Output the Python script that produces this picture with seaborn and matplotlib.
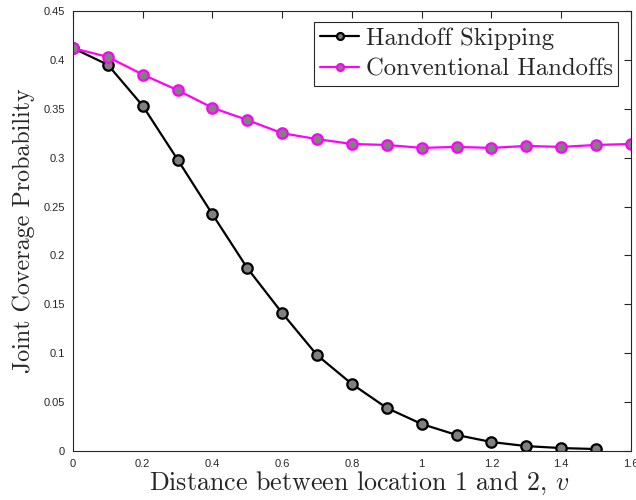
import numpy as np
import pandas as pd
import matplotlib
matplotlib.use("Agg")
import matplotlib.pyplot as plt
import seaborn as sns

# Distance between location 1 and 2 (v)
v_skip = [0.0, 0.1, 0.2, 0.3, 0.4, 0.5, 0.6, 0.7, 0.8, 0.9, 1.0, 1.1, 1.2, 1.3, 1.4, 1.5]
p_skip = [0.412, 0.395, 0.353, 0.298, 0.242, 0.187, 0.141, 0.098, 0.0685, 0.044,
          0.0276, 0.0164, 0.0092, 0.005, 0.003, 0.002]

v_conv = [0.0, 0.1, 0.2, 0.3, 0.4, 0.5, 0.6, 0.7, 0.8, 0.9, 1.0, 1.1, 1.2, 1.3, 1.4, 1.5, 1.6]
p_conv = [0.412, 0.403, 0.385, 0.369, 0.351, 0.3385, 0.325, 0.319, 0.314, 0.313,
          0.310, 0.311, 0.310, 0.312, 0.311, 0.313, 0.314]

series_names = ["Handoff Skipping", "Conventional Handoffs"]
series_colors = ["black", "magenta"]

x_ticks = [0, 0.2, 0.4, 0.6, 0.8, 1.0, 1.2, 1.4, 1.6]
x_tick_labels = ["0", "0.2", "0.4", "0.6", "0.8", "1", "1.2", "1.4", "1.6"]
y_ticks = [0, 0.05, 0.1, 0.15, 0.2, 0.25, 0.3, 0.35, 0.4, 0.45]
y_tick_labels = ["0", "0.05", "0.1", "0.15", "0.2", "0.25", "0.3", "0.35", "0.4", "0.45"]

sns.set_theme(style="white")
plt.rcParams["mathtext.fontset"] = "cm"
plt.rcParams["axes.unicode_minus"] = False

df = pd.concat([
    pd.DataFrame({"v": v_skip, "p": p_skip, "series": series_names[0]}),
    pd.DataFrame({"v": v_conv, "p": p_conv, "series": series_names[1]}),
], ignore_index=True)

fig = plt.figure(figsize=(6.36, 5.0), dpi=100)
ax = fig.add_axes([0.1148, 0.098, 0.8772, 0.880])

for name, col in zip(series_names, series_colors):
    sns.lineplot(data=df[df["series"] == name], x="v", y="p", ax=ax,
                 color=col, linewidth=1.6, marker="o", markersize=7.5,
                 markerfacecolor="#808080", markeredgecolor=col,
                 markeredgewidth=1.6, label=name)

ax.set_xlim(0, 1.6)
ax.set_ylim(0, 0.45)
ax.set_xticks(x_ticks)
ax.set_xticklabels(x_tick_labels)
ax.set_yticks(y_ticks)
ax.set_yticklabels(y_tick_labels)

axis_col = "#262626"
for sp in ax.spines.values():
    sp.set_color(axis_col)
    sp.set_linewidth(0.8)
    sp.set_visible(True)
ax.tick_params(direction="in", length=5, width=0.8, color=axis_col,
               top=True, right=True, labelsize=8, labelcolor=axis_col, pad=6)
for lab in ax.get_xticklabels() + ax.get_yticklabels():
    lab.set_family("Liberation Sans")

ax.set_xlabel("Distance between location 1 and 2, $v$", family="cmr10",
              fontsize=18.7, color="#262626", labelpad=0)
ax.xaxis.label.set_x(0.513)
ax.set_ylabel("Joint Coverage Probability", family="cmr10",
              fontsize=17.3, color="#262626", labelpad=6)

leg = ax.legend(loc="upper right", bbox_to_anchor=(0.977, 0.975),
                prop={"family": "cmr10", "size": 17.8},
                frameon=True, fancybox=False, framealpha=1,
                handlelength=1.6, handletextpad=0.25, borderpad=0.22,
                labelspacing=0.32, borderaxespad=0)
leg.get_frame().set_edgecolor(axis_col)
leg.get_frame().set_linewidth(0.8)
for h in leg.legend_handles:
    h.set_markersize(5)

fig.savefig("out.png", dpi=100)
